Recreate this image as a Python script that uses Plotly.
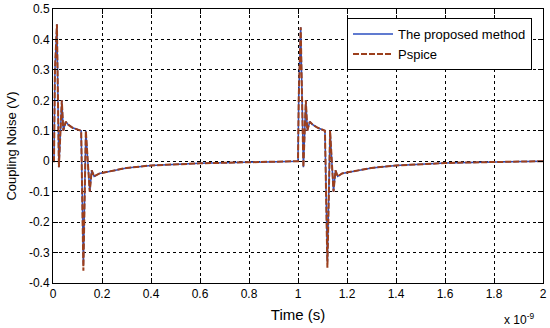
import plotly.graph_objects as go

# Time in units of 1e-9 s
t_proposed = [0, 0.004, 0.008, 0.016, 0.024, 0.036, 0.042, 0.052, 0.062, 0.08, 0.115,
              0.124, 0.134, 0.15, 0.158, 0.168, 0.19, 0.25, 0.3, 0.4, 0.5, 0.6, 0.7,
              0.8, 0.9, 0.995, 1.0, 1.003, 1.011, 1.022, 1.032, 1.038, 1.048, 1.06,
              1.08, 1.11, 1.12, 1.131, 1.145, 1.153, 1.162, 1.18, 1.25, 1.3, 1.4,
              1.5, 1.6, 1.7, 1.8, 1.9, 2.0]
v_proposed = [0, 0.0, 0.30, 0.45, -0.02, 0.20, 0.10, 0.13, 0.12, 0.11, 0.10,
              -0.34, 0.10, -0.10, -0.03, -0.05, -0.04, -0.03, -0.022, -0.014, -0.01,
              -0.007, -0.005, -0.003, -0.002, -0.001, 0.0, 0.21, 0.44, -0.02, 0.20,
              0.10, 0.13, 0.12, 0.11, 0.10, -0.33, 0.10, -0.10, -0.03, -0.05, -0.04,
              -0.03, -0.022, -0.014, -0.009, -0.006, -0.004, -0.002, -0.001, 0.0]

t_pspice = t_proposed
v_pspice = [0, 0.0, 0.30, 0.45, -0.02, 0.20, 0.10, 0.13, 0.12, 0.11, 0.10,
            -0.36, 0.10, -0.10, -0.03, -0.05, -0.04, -0.03, -0.022, -0.014, -0.01,
            -0.007, -0.005, -0.003, -0.002, -0.001, 0.0, 0.21, 0.44, -0.02, 0.20,
            0.10, 0.13, 0.12, 0.11, 0.10, -0.35, 0.10, -0.10, -0.03, -0.05, -0.04,
            -0.03, -0.022, -0.014, -0.009, -0.006, -0.004, -0.002, -0.001, 0.0]

x_ticks = [0, 0.2, 0.4, 0.6, 0.8, 1, 1.2, 1.4, 1.6, 1.8, 2]
x_tick_labels = ["0", "0.2", "0.4", "0.6", "0.8", "1", "1.2", "1.4", "1.6", "1.8", "2"]
y_ticks = [-0.4, -0.3, -0.2, -0.1, 0, 0.1, 0.2, 0.3, 0.4, 0.5]
y_tick_labels = ["-0.4", "-0.3", "-0.2", "-0.1", "0", "0.1", "0.2", "0.3", "0.4", "0.5"]

fig = go.Figure()
fig.add_trace(go.Scatter(x=t_proposed, y=v_proposed, mode="lines",
                         name="The proposed method",
                         line=dict(color="#2b4fc0", width=1.5)))
fig.add_trace(go.Scatter(x=t_pspice, y=v_pspice, mode="lines", name="Pspice",
                         line=dict(color="#9c3f1c", width=2, dash="6px,2px")))

axis_common = dict(showline=True, linecolor="black", linewidth=1, mirror="allticks",
                   ticks="inside", ticklen=5, tickcolor="black",
                   showgrid=True, gridcolor="black", griddash="dot", gridwidth=1,
                   zeroline=False, tickfont=dict(size=12, color="black"),
                   automargin=False)

fig.update_xaxes(range=[0, 2], tickvals=x_ticks, ticktext=x_tick_labels,
                 title=dict(text="Time (s)", font=dict(size=15, color="black"), standoff=9),
                 **axis_common)
fig.update_yaxes(range=[-0.4, 0.5], tickvals=y_ticks, ticktext=y_tick_labels,
                 title=dict(text="Coupling Noise (V)", font=dict(size=13, color="black"), standoff=9),
                 **axis_common)

fig.add_annotation(text="x 10<sup>-9</sup>", xref="paper", yref="paper",
                   x=0.985, y=-0.168, xanchor="right", yanchor="bottom", showarrow=False,
                   font=dict(size=12, color="black"))

fig.update_layout(width=550, height=328,
                  margin=dict(l=53, r=7, t=9, b=45),
                  paper_bgcolor="white", plot_bgcolor="white",
                  font=dict(family="Liberation Sans, Arial, sans-serif", color="black"),
                  legend=dict(x=0.6, y=0.967, xanchor="left", yanchor="top",
                              bgcolor="white", bordercolor="black", borderwidth=1,
                              font=dict(size=13, color="black"), itemwidth=40,
                              tracegroupgap=0))

fig.write_html("out.html", config={"displayModeBar": False},
               post_script="document.body.style.margin='0';")
